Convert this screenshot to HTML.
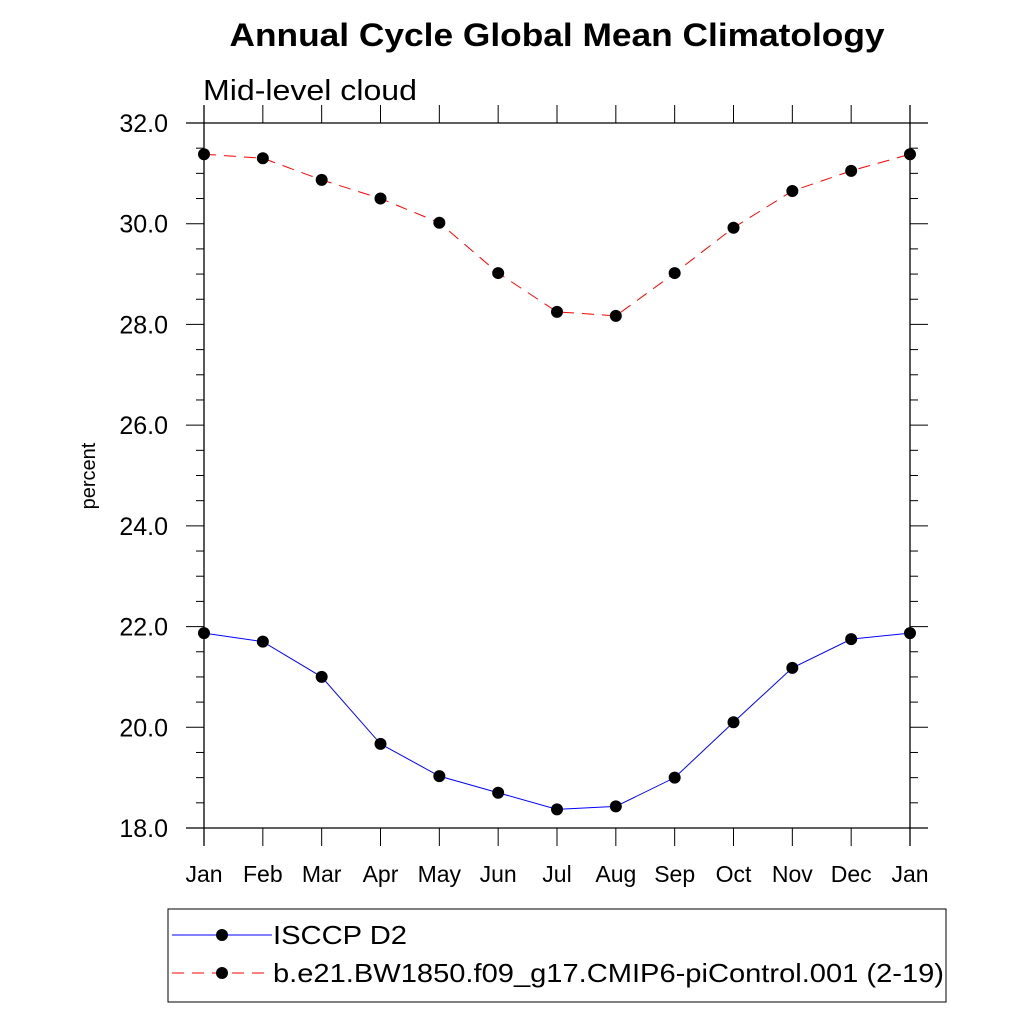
<!DOCTYPE html>
<html><head><meta charset="utf-8"><style>
body{margin:0;background:#fff}
svg text{font-family:"Liberation Sans",sans-serif}
</style></head><body>
<svg id="chart" width="1024" height="1024" xmlns="http://www.w3.org/2000/svg">
<text x="557" y="46" font-size="32" font-weight="bold" text-anchor="middle" textLength="655" lengthAdjust="spacingAndGlyphs">Annual Cycle Global Mean Climatology</text>
<text x="203" y="100" font-size="29" textLength="214" lengthAdjust="spacingAndGlyphs">Mid-level cloud</text>
<text transform="translate(95,476) rotate(-90)" font-size="20" text-anchor="middle">percent</text>
<g id="axes"></g>
<g id="series"></g>
<rect x="168" y="909" width="778" height="93" fill="none" stroke="#000" stroke-width="1"/>
<g>
<line x1="172" y1="935" x2="272" y2="935" stroke="#00f" stroke-width="1"/>
<circle cx="222" cy="935" r="6" fill="#000"/>
<text x="273" y="944" font-size="26" textLength="134" lengthAdjust="spacingAndGlyphs">ISCCP D2</text>
</g>
<g>
<line x1="172" y1="973" x2="272" y2="973" stroke="#f00" stroke-width="1" stroke-dasharray="12,8"/>
<circle cx="222" cy="973" r="6" fill="#000"/>
<text x="273" y="982" font-size="26" textLength="671" lengthAdjust="spacingAndGlyphs">b.e21.BW1850.f09_g17.CMIP6-piControl.001 (2-19)</text>
</g>
</svg>
<script>
const months=["Jan","Feb","Mar","Apr","May","Jun","Jul","Aug","Sep","Oct","Nov","Dec","Jan"];
const isccp=[21.87,21.7,21.0,19.67,19.03,18.7,18.37,18.43,19.0,20.1,21.18,21.75,21.87];
const model=[31.38,31.3,30.87,30.5,30.02,29.02,28.25,28.17,29.02,29.92,30.65,31.05,31.38];
const yTicks=[18,20,22,24,26,28,30,32];
const NS="http://www.w3.org/2000/svg";
const L=204,R=910,T=123,B=828,ymin=18,ymax=32;
const xs=i=>L+(R-L)*i/(months.length-1);
const ys=v=>B-(v-ymin)/(ymax-ymin)*(B-T);
function mk(tag,at,parent){const e=document.createElementNS(NS,tag);for(const k in at)e.setAttribute(k,at[k]);parent.appendChild(e);return e;}
const ax=document.getElementById('axes');
mk('line',{x1:186,y1:T,x2:928,y2:T,stroke:'#000','stroke-width':1.3},ax);
mk('line',{x1:186,y1:B,x2:928,y2:B,stroke:'#000','stroke-width':1.3},ax);
mk('line',{x1:L,y1:105,x2:L,y2:846,stroke:'#000','stroke-width':1.3},ax);
mk('line',{x1:R,y1:105,x2:R,y2:846,stroke:'#000','stroke-width':1.3},ax);
for(let v=ymin;v<=ymax+1e-9;v+=0.5){
  const y=ys(v);const major=Math.abs(v-Math.round(v/2)*2)<1e-9;
  const len=major?18:8;
  mk('line',{x1:L-len,y1:y,x2:L,y2:y,stroke:'#000','stroke-width':1},ax);
  mk('line',{x1:R,y1:y,x2:R+len,y2:y,stroke:'#000','stroke-width':1},ax);
}
yTicks.forEach(v=>{
  const t=mk('text',{x:168,y:ys(v)+9,'font-size':25,'text-anchor':'end'},ax);
  t.textContent=v.toFixed(1);
  
  
});
months.forEach((m,i)=>{
  const x=xs(i);
  mk('line',{x1:x,y1:T-18,x2:x,y2:T,stroke:'#000','stroke-width':1},ax);
  mk('line',{x1:x,y1:B,x2:x,y2:B+18,stroke:'#000','stroke-width':1},ax);
  const t=mk('text',{x:x,y:882,'font-size':23,'text-anchor':'middle'},ax);
  t.textContent=m;
  
  
});
const sg=document.getElementById('series');
function draw(vals,color,dash,name){
  const pts=vals.map((v,i)=>xs(i)+','+ys(v)).join(' ');
  const pl=mk('polyline',{points:pts,fill:'none',stroke:color,'stroke-width':1,'stroke-dasharray':dash},sg);
  
  
  vals.forEach((v,i)=>{
    const c=mk('circle',{cx:xs(i),cy:ys(v),r:6,fill:'#000'},sg);
    
    
  });
}
draw(model,'#f00','12,8','model');
draw(isccp,'#00f','none','isccp');
</script>
</body></html>
